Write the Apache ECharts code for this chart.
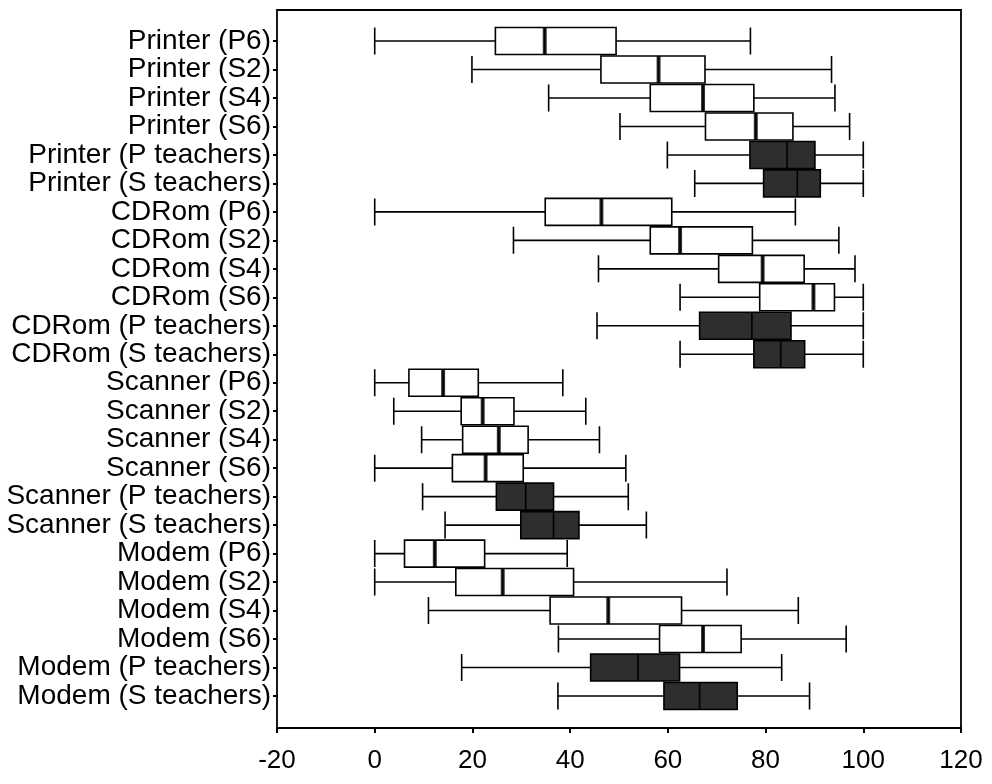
<!DOCTYPE html>
<html>
<head>
<meta charset="utf-8">
<script src="https://cdn.jsdelivr.net/npm/echarts@6/dist/echarts.min.js"></script>
<style>
  html, body { margin: 0; padding: 0; background: #fff; }
  #chart { width: 992px; height: 784px; }
</style>
</head>
<body>
<div id="chart"></div>
<script>
const categories = [
  'Printer (P6)', 'Printer (S2)', 'Printer (S4)', 'Printer (S6)',
  'Printer (P teachers)', 'Printer (S teachers)',
  'CDRom (P6)', 'CDRom (S2)', 'CDRom (S4)', 'CDRom (S6)',
  'CDRom (P teachers)', 'CDRom (S teachers)',
  'Scanner (P6)', 'Scanner (S2)', 'Scanner (S4)', 'Scanner (S6)',
  'Scanner (P teachers)', 'Scanner (S teachers)',
  'Modem (P6)', 'Modem (S2)', 'Modem (S4)', 'Modem (S6)',
  'Modem (P teachers)', 'Modem (S teachers)'
];
const whiskerLow  = [0, 19.9, 35.6, 50.2, 59.9, 65.5,  0, 28.4, 45.8, 62.5, 45.5, 62.5,  0, 3.9, 9.6, 0, 9.8, 14.4,  0, 0, 11.0, 37.6, 17.8, 37.5];
const quartile1   = [24.7, 46.3, 56.4, 67.7, 76.8, 79.6,  34.9, 56.4, 70.4, 78.8, 66.5, 77.6,  7.0, 17.7, 18.0, 15.9, 24.9, 29.9,  6.1, 16.6, 35.9, 58.3, 44.2, 59.2];
const medians     = [34.8, 58.1, 67.2, 78.0, 84.4, 86.5,  46.4, 62.5, 79.4, 89.8, 77.2, 83.1,  14.0, 22.1, 25.4, 22.7, 30.9, 36.6,  12.3, 26.2, 47.8, 67.2, 53.9, 66.5];
const quartile3   = [49.4, 67.6, 77.6, 85.6, 90.1, 91.2,  60.8, 77.3, 87.9, 94.1, 85.2, 88.0,  21.2, 28.5, 31.4, 30.4, 36.6, 41.8,  22.5, 40.7, 62.8, 75.0, 62.4, 74.2];
const whiskerHigh = [76.9, 93.5, 94.2, 97.2, 100, 100,  86.1, 95.0, 98.3, 100, 100, 100,  38.5, 43.2, 46.0, 51.4, 51.9, 55.6,  39.4, 72.1, 86.7, 96.5, 83.3, 89.0];
const isTeacher   = [0, 0, 0, 0, 1, 1,  0, 0, 0, 0, 1, 1,  0, 0, 0, 0, 1, 1,  0, 0, 0, 0, 1, 1];
const xTicks = { min: -20, max: 120, interval: 20 };

const FONT = '"Liberation Sans", Arial, sans-serif';

const boxData = categories.map((c, i) => ({
  value: [whiskerLow[i], quartile1[i], medians[i], quartile3[i], whiskerHigh[i]],
  itemStyle: {
    color: isTeacher[i] ? '#2e2e2e' : '#ffffff',
    borderColor: '#000000',
    borderWidth: 1.6
  }
}));
const medianData = [];
categories.forEach((c, i) => { if (!isTeacher[i]) medianData.push([medians[i], c]); });

const chart = echarts.init(document.getElementById('chart'), null, { renderer: 'canvas' });
chart.setOption({
  animation: false,
  backgroundColor: '#ffffff',
  grid: [
    { left: 277, right: 31, top: 10, bottom: 56, show: true, borderColor: '#000', borderWidth: 1.8, backgroundColor: 'transparent' },
    { left: 277, right: 31, top: 26.8, bottom: 73.8 }
  ],
  xAxis: [
    {
      gridIndex: 0, type: 'value', min: xTicks.min, max: xTicks.max, interval: xTicks.interval,
      axisLine: { show: true, lineStyle: { color: '#000', width: 1.8 } },
      axisTick: { show: true, inside: false, length: 5, lineStyle: { color: '#000', width: 2 } },
      axisLabel: { color: '#000', fontSize: 26, fontFamily: FONT, margin: 20 },
      splitLine: { show: false }
    },
    { gridIndex: 1, type: 'value', min: xTicks.min, max: xTicks.max, show: false }
  ],
  yAxis: [
    { gridIndex: 0, type: 'value', show: false, min: 0, max: 1 },
    {
      gridIndex: 1, type: 'category', data: categories, inverse: true,
      axisLine: { show: false, onZero: false },
      axisTick: { show: true, alignWithLabel: true, length: 4, lineStyle: { color: '#000', width: 2 } },
      axisLabel: { interval: 0, color: '#000', fontSize: 28, fontFamily: FONT, margin: 6, padding: [12, 0, 0, 0] },
      splitLine: { show: false }
    }
  ],
  series: [
    {
      type: 'boxplot', xAxisIndex: 1, yAxisIndex: 1,
      boxWidth: [27, 27],
      data: boxData,
      itemStyle: { borderColor: '#000', borderWidth: 1.6 },
      emphasis: { disabled: true }
    },
    {
      type: 'scatter', xAxisIndex: 1, yAxisIndex: 1,
      symbol: 'rect', symbolSize: [4, 27],
      itemStyle: { color: '#000' },
      data: medianData, z: 5,
      emphasis: { disabled: true }
    }
  ]
});
</script>
</body>
</html>
